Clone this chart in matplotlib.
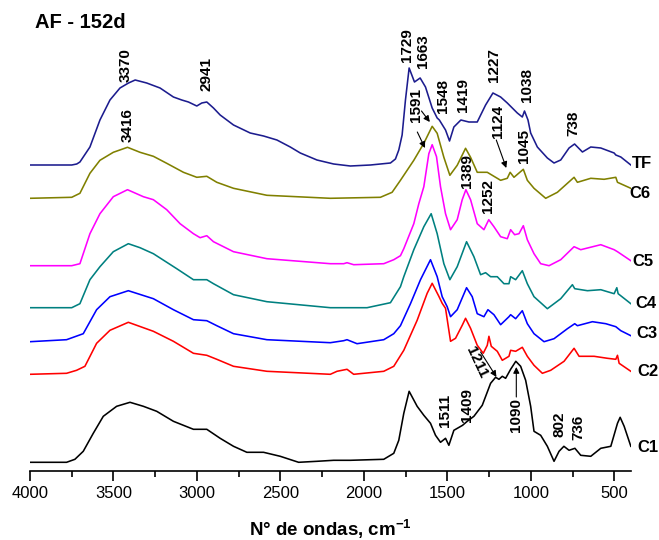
import matplotlib
matplotlib.use("Agg")
import matplotlib.pyplot as plt
from matplotlib.ticker import MultipleLocator
import numpy as np

plt.rcParams["font.family"] = ["Liberation Sans", "DejaVu Sans"]
plt.rcParams["mathtext.default"] = "regular"

# FTIR spectra: wavenumber (cm-1) and absorbance above each trace's own baseline
TF_WN = [4000, 3750, 3720, 3701, 3641, 3581, 3521, 3461, 3410, 3370, 3301, 3221, 3141, 3091, 3051, 3001, 2971,
         2941, 2901, 2861, 2781, 2681, 2601, 2521, 2441, 2381, 2281, 2181, 2081, 1961, 1841, 1811, 1791,
         1771, 1751, 1729, 1697, 1663, 1631, 1591, 1561, 1548, 1511, 1487, 1461, 1419, 1371, 1321, 1271,
         1227, 1181, 1141, 1081, 1051, 1038, 1017, 1001, 961, 901, 861, 821, 771, 738, 691, 641, 581,
         501, 491, 461, 401]
TF_A = [0, 0, 0.01, 0.03, 0.18, 0.45, 0.65, 0.77, 0.82, 0.85, 0.82, 0.77, 0.68, 0.65, 0.63, 0.59, 0.62,
        0.63, 0.57, 0.50, 0.40, 0.32, 0.29, 0.25, 0.18, 0.12, 0.05, 0.01, -0.01, 0.0, 0.02, 0.06, 0.15,
        0.30, 0.65, 0.97, 0.83, 0.87, 0.78, 0.57, 0.47, 0.45, 0.35, 0.24, 0.38, 0.45, 0.43, 0.43, 0.60,
        0.72, 0.68, 0.62, 0.52, 0.48, 0.54, 0.45, 0.32, 0.18, 0.07, 0.02, 0.05, 0.17, 0.21, 0.13, 0.18, 0.17,
        0.12, 0.10, 0.08, 0.0]

C6_WN = [4000, 3750, 3701, 3641, 3581, 3501, 3416, 3341, 3261, 3181, 3081, 3001, 2941, 2881, 2781, 2581,
         2201, 1901, 1831, 1781, 1701, 1641, 1591, 1561, 1521, 1485, 1441, 1391, 1361, 1321, 1261, 1181,
         1141, 1124, 1101, 1045, 1021, 981, 911, 841, 741, 721, 641, 561, 491, 481, 401]
C6_A = [0, 0.01, 0.05, 0.25, 0.38, 0.46, 0.51, 0.46, 0.42, 0.35, 0.26, 0.21, 0.22, 0.16, 0.10, 0.03,
        0.0, 0.01, 0.06, 0.18, 0.38, 0.55, 0.72, 0.65, 0.41, 0.23, 0.33, 0.50, 0.41, 0.26, 0.26, 0.18,
        0.20, 0.26, 0.21, 0.29, 0.18, 0.10, 0.0, 0.06, 0.21, 0.16, 0.20, 0.19, 0.21, 0.16, 0.10]

C5_WN = [4000, 3750, 3701, 3641, 3581, 3501, 3416, 3321, 3261, 3181, 3101, 3021, 2981, 2941, 2901, 2781,
         2581, 2201, 2121, 2101, 2061, 1881, 1821, 1781, 1761, 1701, 1671, 1641, 1611, 1591, 1565, 1541,
         1511, 1481, 1441, 1411, 1389, 1361, 1321, 1281, 1252, 1221, 1181, 1141, 1121, 1097, 1071, 1045,
         1021, 981, 941, 891, 821, 741, 701, 581, 501, 481, 401]
C5_A = [0, 0.0, 0.02, 0.32, 0.52, 0.69, 0.76, 0.69, 0.66, 0.56, 0.42, 0.32, 0.28, 0.30, 0.24, 0.14,
        0.07, 0.02, 0.02, 0.03, 0.01, 0.02, 0.06, 0.10, 0.17, 0.42, 0.62, 0.79, 1.12, 1.21, 1.09, 0.79,
        0.52, 0.36, 0.46, 0.66, 0.76, 0.66, 0.42, 0.36, 0.46, 0.39, 0.29, 0.27, 0.36, 0.31, 0.32, 0.40,
        0.26, 0.12, 0.02, 0.0, 0.06, 0.19, 0.16, 0.21, 0.16, 0.14, 0.05]

C4_WN = [4000, 3750, 3701, 3641, 3581, 3501, 3411, 3341, 3261, 3121, 3021, 2941, 2901, 2781, 2581, 2201,
         1981, 1841, 1781, 1761, 1701, 1641, 1597, 1561, 1521, 1485, 1441, 1385, 1341, 1301, 1271, 1241,
         1201, 1161, 1131, 1121, 1091, 1051, 1021, 981, 901, 821, 751, 737, 661, 581, 501, 485, 477, 401]
C4_A = [0, 0.0, 0.04, 0.28, 0.41, 0.56, 0.64, 0.60, 0.54, 0.39, 0.28, 0.28, 0.24, 0.13, 0.06, 0.0,
        0.0, 0.05, 0.21, 0.31, 0.58, 0.81, 0.94, 0.74, 0.44, 0.28, 0.41, 0.66, 0.51, 0.33, 0.35, 0.31,
        0.31, 0.24, 0.24, 0.31, 0.28, 0.37, 0.24, 0.11, -0.01, 0.09, 0.23, 0.19, 0.17, 0.18, 0.14, 0.20, 0.14, 0.04]

C3_WN = [4000, 3781, 3681, 3601, 3521, 3411, 3261, 3141, 3021, 2941, 2881, 2781, 2581, 2201, 2121, 2101,
         2041, 1881, 1821, 1781, 1721, 1661, 1601, 1561, 1531, 1501, 1481, 1441, 1385, 1351, 1321, 1281,
         1257, 1221, 1181, 1131, 1121, 1091, 1051, 1021, 981, 921, 861, 781, 737, 721, 631, 551, 491, 461, 401]
C3_A = [0, 0.02, 0.08, 0.32, 0.45, 0.51, 0.43, 0.32, 0.22, 0.21, 0.16, 0.08, 0.02, -0.01, 0.01, 0.02,
        -0.02, 0.02, 0.08, 0.16, 0.38, 0.62, 0.82, 0.65, 0.45, 0.35, 0.25, 0.32, 0.54, 0.45, 0.28, 0.25,
        0.32, 0.27, 0.17, 0.25, 0.27, 0.23, 0.31, 0.18, 0.08, 0.0, 0.03, 0.13, 0.18, 0.16, 0.20, 0.18, 0.15, 0.11, 0.06]

C2_WN = [4000, 3781, 3721, 3671, 3601, 3521, 3411, 3261, 3141, 3021, 2941, 2881, 2781, 2581, 2201, 2161,
         2101, 2061, 1881, 1821, 1761, 1681, 1621, 1591, 1551, 1531, 1511, 1491, 1481, 1451, 1411, 1391,
         1361, 1321, 1285, 1261, 1251, 1237, 1201, 1171, 1131, 1121, 1091, 1051, 1021, 981, 931, 881,
         801, 741, 711, 621, 541, 491, 481, 471, 401]
C2_A = [0, 0.01, 0.04, 0.08, 0.31, 0.44, 0.52, 0.43, 0.33, 0.21, 0.19, 0.15, 0.08, 0.03, 0.0, 0.03,
        0.05, 0.0, 0.03, 0.08, 0.24, 0.54, 0.81, 0.91, 0.78, 0.71, 0.66, 0.44, 0.33, 0.36, 0.49, 0.56,
        0.46, 0.29, 0.21, 0.29, 0.38, 0.28, 0.23, 0.14, 0.18, 0.24, 0.23, 0.27, 0.18, 0.09, 0.01, 0.04,
        0.13, 0.26, 0.18, 0.18, 0.16, 0.15, 0.19, 0.11, 0.03]

C1_WN = [4000, 3781, 3731, 3681, 3621, 3561, 3481, 3401, 3321, 3241, 3141, 3021, 2941, 2861, 2781, 2701,
         2601, 2501, 2391, 2281, 2181, 2081, 1881, 1821, 1791, 1761, 1729, 1681, 1641, 1601, 1571, 1541,
         1511, 1491, 1461, 1409, 1381, 1341, 1291, 1241, 1211, 1191, 1171, 1151, 1121, 1090, 1061, 1031,
         1001, 981, 941, 901, 861, 831, 802, 771, 736, 701, 641, 581, 521, 481, 465, 441, 401]
C1_A = [0, 0.0, 0.03, 0.11, 0.29, 0.46, 0.56, 0.60, 0.56, 0.51, 0.41, 0.33, 0.33, 0.24, 0.16, 0.10,
        0.10, 0.06, 0.0, 0.01, 0.02, 0.02, 0.03, 0.09, 0.22, 0.49, 0.71, 0.56, 0.47, 0.39, 0.27, 0.20,
        0.24, 0.17, 0.32, 0.37, 0.41, 0.46, 0.57, 0.79, 0.85, 0.83, 0.86, 0.84, 0.93, 1.01, 0.96, 0.82,
        0.56, 0.31, 0.27, 0.16, 0.01, 0.11, 0.16, 0.12, 0.14, 0.07, 0.06, 0.14, 0.16, 0.39, 0.45, 0.36, 0.16]

NAMES = ["TF", "C6", "C5", "C4", "C3", "C2", "C1"]
SPECTRA = {"TF": (TF_WN, TF_A), "C6": (C6_WN, C6_A), "C5": (C5_WN, C5_A), "C4": (C4_WN, C4_A),
           "C3": (C3_WN, C3_A), "C2": (C2_WN, C2_A), "C1": (C1_WN, C1_A)}

# vertical stacking and styling
OFFSET = {"TF": 3.06, "C6": 2.727, "C5": 2.053, "C4": 1.633, "C3": 1.293, "C2": 0.967, "C1": 0.087}
COLOR = {"TF": "#1c1c8e", "C6": "#808000", "C5": "#ff00ff", "C4": "#008080",
         "C3": "#0000ff", "C2": "#ff0000", "C1": "#000000"}
NAME_POS = {"TF": (335, 3.07), "C6": (347, 2.77), "C5": (329, 2.09), "C4": (311, 1.68),
            "C3": (305, 1.37), "C2": (299, 1.00), "C1": (299, 0.24)}

# band labels: text, x, y (bottom of the rotated text)
BANDS = [("3370", 3425, 3.89), ("2941", 2945, 3.80), ("3416", 3416, 3.29),
         ("1729", 1740, 4.09), ("1663", 1647, 4.03), ("1548", 1529, 3.58), ("1419", 1409, 3.59),
         ("1227", 1223, 3.89), ("1038", 1025, 3.69), ("738", 743, 3.35),
         ("1591", 1688, 3.49), ("1124", 1194, 3.33), ("1045", 1042, 3.08),
         ("1389", 1384, 2.83), ("1252", 1259, 2.58),
         ("1090", 1086, 0.39), ("1511", 1517, 0.44), ("1409", 1384, 0.49),
         ("802", 826, 0.34), ("736", 718, 0.31)]
ARROWS = [((1680, 3.39), (1634, 3.23)), ((1655, 3.60), (1605, 3.49)),
          ((1207, 3.31), (1147, 3.03)), ((1301, 1.19), (1206, 0.94)), ((1087, 0.74), (1087, 1.04))]

fig = plt.figure(figsize=(6.59, 5.4), dpi=100)
ax = fig.add_axes([30 / 659, 69 / 540, 601 / 659, 466 / 540])

for name in NAMES:
    wn, a = SPECTRA[name]
    ax.plot(wn, np.array(a) + OFFSET[name], color=COLOR[name], lw=1.15, solid_joinstyle="round")
    x, y = NAME_POS[name]
    ax.text(x, y, name, ha="center", va="center", fontsize=12, fontweight="bold", clip_on=False)

for txt, x, y in BANDS:
    ax.text(x, y, txt, rotation=90, ha="center", va="bottom", fontsize=11, fontweight="bold")
ax.text(1324, 1.09, "1211", rotation=-65, ha="center", va="center", fontsize=11, fontweight="bold")

for start, end in ARROWS:
    ax.annotate("", xy=end, xytext=start,
                arrowprops=dict(arrowstyle="-|>", color="black", lw=0.8, mutation_scale=9,
                                shrinkA=0, shrinkB=0))

ax.set_xlim(4000, 400)
ax.set_ylim(0, 4.66)
ax.set_yticks([])
for side in ("left", "top", "right"):
    ax.spines[side].set_visible(False)
ax.spines["bottom"].set_linewidth(1.2)
ax.xaxis.set_major_locator(MultipleLocator(500))
ax.xaxis.set_minor_locator(MultipleLocator(250))
ax.tick_params(axis="x", which="major", direction="out", length=7, width=1.2, labelsize=12, pad=4)
ax.tick_params(axis="x", which="minor", direction="out", length=4, width=1.2)
ax.set_xlabel("N° de ondas, cm$^{-1}$", fontsize=13.5, fontweight="bold", labelpad=12)

fig.text(35 / 659, 1 - 23 / 540, "AF - 152d", fontsize=14.5, fontweight="bold", va="center")

fig.savefig("out.png", dpi=100)
